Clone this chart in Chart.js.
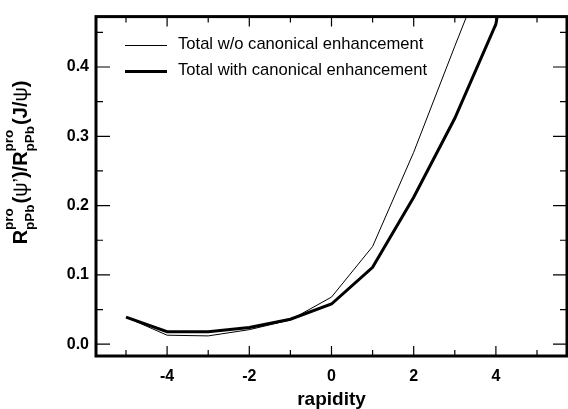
<!DOCTYPE html>
<html>
<head>
<meta charset="utf-8">
<script src="https://cdn.jsdelivr.net/npm/chart.js@4/dist/chart.umd.min.js"></script>
<style>
html,body{margin:0;padding:0;background:#fff;}
#wrap{width:568px;height:409px;position:relative;}
</style>
</head>
<body>
<div id="wrap"><canvas id="c" width="568" height="409"></canvas></div>
<script>
// ---- data ----
const rapidity = [-5, -4, -3, -2, -1, 0, 1, 2, 3, 4, 5];
const woEnh   = [0.039, 0.013, 0.012, 0.021, 0.035, 0.068, 0.141, 0.277, 0.430, 0.580, 0.750];
const withEnh = [0.039, 0.018, 0.018, 0.024, 0.036, 0.058, 0.111, 0.212, 0.326, 0.462, 0.800];
const seriesLabels = ['Total w/o canonical enhancement', 'Total with canonical enhancement'];
const xTickValues = [-4, -2, 0, 2, 4];
const xMinorTicks = [-5, -3, -1, 1, 3, 5];
const yTickValues = [0.0, 0.1, 0.2, 0.3, 0.4];
const yMinorTicks = [0.05, 0.15, 0.25, 0.35, 0.45];
const xTitle = 'rapidity';

const FONT = "'Liberation Sans', Arial, Helvetica, sans-serif";

const framePlugin = {
  id: 'framePlugin',
  afterDraw(chart) {
    const ctx = chart.ctx;
    const a = chart.chartArea;
    const xs = chart.scales.x, ys = chart.scales.y;
    ctx.save();
    // ticks (inside, on all four sides)
    ctx.strokeStyle = '#000';
    ctx.lineWidth = 1.2;
    ctx.beginPath();
    const xt = (vals, len) => vals.forEach(v => {
      const px = xs.getPixelForValue(v);
      ctx.moveTo(px, a.bottom); ctx.lineTo(px, a.bottom - len);
      ctx.moveTo(px, a.top); ctx.lineTo(px, a.top + len);
    });
    const yt = (vals, len) => vals.forEach(v => {
      const py = ys.getPixelForValue(v);
      ctx.moveTo(a.left, py); ctx.lineTo(a.left + len, py);
      ctx.moveTo(a.right, py); ctx.lineTo(a.right - len, py);
    });
    xt(xTickValues, 10); xt(xMinorTicks, 6);
    yt(yTickValues, 14); yt(yMinorTicks, 7);
    ctx.stroke();
    // frame
    ctx.lineWidth = 3;
    ctx.strokeRect(a.left, a.top, a.right - a.left, a.bottom - a.top);

    // legend
    const legendRows = [{y: 45.5, w: 1}, {y: 71.5, w: 3}];
    ctx.font = '16.6px ' + FONT;
    ctx.textBaseline = 'middle';
    ctx.textAlign = 'left';
    ctx.fillStyle = '#000';
    legendRows.forEach((r, i) => {
      ctx.lineWidth = r.w;
      ctx.beginPath();
      ctx.moveTo(125, r.y); ctx.lineTo(167, r.y);
      ctx.stroke();
      ctx.fillText(seriesLabels[i], 178, r.y - 1);
    });

    // y-axis title with super/subscripts (rotated)
    const big = 'bold 20px ' + FONT;
    const small = 'bold 13.5px ' + FONT;
    const greek = '20px ' + FONT;
    const parts = [
      {t: 'R', f: big},
      {stack: ['pro', 'pPb']},
      {t: '(', f: big},
      {t: 'ψ', f: greek},
      {t: '’', f: greek},
      {t: ')/R', f: big},
      {stack: ['pro', 'pPb']},
      {t: '(J/', f: big},
      {t: 'ψ', f: greek},
      {t: ')', f: big}
    ];
    const widthOf = p => {
      if (p.stack) { ctx.font = small; return Math.max(ctx.measureText(p.stack[0]).width, ctx.measureText(p.stack[1]).width) + 1; }
      ctx.font = p.f; return ctx.measureText(p.t).width;
    };
    const total = parts.reduce((s, p) => s + widthOf(p), 0);
    const cy = 162.5;
    ctx.translate(27, cy);
    ctx.rotate(-Math.PI / 2);
    ctx.textBaseline = 'alphabetic';
    let x = -total / 2;
    parts.forEach(p => {
      const w = widthOf(p);
      if (p.stack) {
        ctx.font = small;
        ctx.fillText(p.stack[0], x, -14);
        ctx.fillText(p.stack[1], x, 7);
      } else {
        ctx.font = p.f;
        ctx.fillText(p.t, x, 0);
      }
      x += w;
    });
    ctx.restore();
  }
};

new Chart(document.getElementById('c'), {
  type: 'line',
  data: {
    datasets: [
      {
        label: seriesLabels[0],
        data: rapidity.map((r, i) => ({x: r, y: woEnh[i]})),
        borderColor: '#000', borderWidth: 1, pointRadius: 0, tension: 0, fill: false
      },
      {
        label: seriesLabels[1],
        data: rapidity.map((r, i) => ({x: r, y: withEnh[i]})),
        borderColor: '#000', borderWidth: 3, pointRadius: 0, tension: 0, fill: false
      }
    ]
  },
  options: {
    responsive: false,
    animation: false,
    events: [],
    layout: {padding: {top: 10, right: 1, left: 0, bottom: 0}},
    plugins: {legend: {display: false}, tooltip: {enabled: false}, title: {display: false}},
    scales: {
      x: {
        type: 'linear',
        min: -5.73, max: 5.73,
        afterBuildTicks: s => { s.ticks = xTickValues.map(v => ({value: v})); },
        afterFit: s => { s.height = 53; },
        grid: {display: false, drawTicks: false},
        border: {display: false},
        ticks: {
          color: '#000', padding: 11, maxRotation: 0, autoSkip: false,
          font: {family: FONT, size: 16, weight: 'bold'},
          callback: v => String(v)
        },
        title: {
          display: true, text: xTitle, color: '#000',
          font: {family: FONT, size: 19, weight: 'bold'},
          padding: {top: 0, bottom: -2}
        }
      },
      y: {
        type: 'linear',
        min: -0.017, max: 0.4727,
        afterBuildTicks: s => { s.ticks = yTickValues.map(v => ({value: v})); },
        afterFit: s => { s.width = 96; },
        grid: {display: false, drawTicks: false},
        border: {display: false},
        ticks: {
          color: '#000', padding: 7, autoSkip: false,
          font: {family: FONT, size: 16, weight: 'bold'},
          callback: v => Number(v).toFixed(1)
        }
      }
    }
  },
  plugins: [framePlugin]
});
</script>
</body>
</html>
